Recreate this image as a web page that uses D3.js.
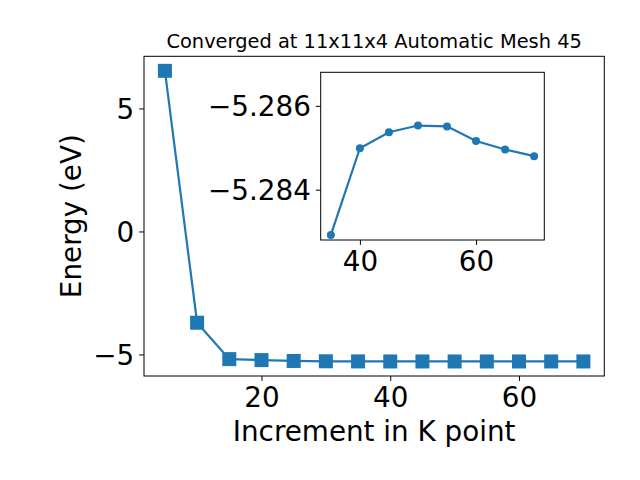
<!DOCTYPE html>
<html>
<head>
<meta charset="utf-8">
<style>
body { margin: 0; background: #fff; }
text { font-family: "DejaVu Sans", sans-serif; fill: #000; }
.domain { display: none; }
</style>
<script src="https://cdn.jsdelivr.net/npm/d3@7"></script>
</head>
<body>
<svg width="640" height="480"></svg>
<script>

// k-point increments and total energies (eV)
var kpoints = [5, 10, 15, 20, 25, 30, 35, 40, 45, 50, 55, 60, 65, 70];
var energy = [6.53, -3.71, -5.19, -5.23, -5.265, -5.278, -5.28292, -5.28499, -5.28537, -5.28553, -5.28551, -5.28516, -5.28496, -5.28480];

// zoomed part, from 35 on
var insetK = [35, 40, 45, 50, 55, 60, 65, 70];
var insetE = [-5.28292, -5.28499, -5.28537, -5.28553, -5.28551, -5.28516, -5.28496, -5.28480];

var mainXTicks = [20, 40, 60];
var mainYTicks = [-5, 0, 5];
var insetXTicks = [40, 60];
var insetYTicks = [-5.286, -5.284];

var blue = "#1f77b4";
var big = "27.8px";
var svg = d3.select("svg");

var main = { left: 144, right: 604.3, top: 56.3, bottom: 376 };
var ins = { left: 320.7, right: 544.3, top: 72.3, bottom: 240 };

function pad(ext, f) {
  var d = (ext[1] - ext[0]) * f;
  return [ext[0] - d, ext[1] + d];
}

var x = d3.scaleLinear().domain(pad(d3.extent(kpoints), 0.05)).range([main.left, main.right]);
var y = d3.scaleLinear().domain(pad(d3.extent(energy), 0.05)).range([main.bottom, main.top]);

// inset y runs downward (as in the picture)
var xi = d3.scaleLinear().domain(pad(d3.extent(insetK), 0.05)).range([ins.left, ins.right]);
var yi = d3.scaleLinear().domain([-5.2868, -5.2828]).range([ins.top, ins.bottom]);

function fmt(v) { return (v < 0 ? "\u2212" : "") + Math.abs(v); }

// main axes
svg.append("g")
    .attr("transform", "translate(0," + main.bottom + ")")
    .call(d3.axisBottom(x).tickValues(mainXTicks).tickSize(4.9).tickPadding(4.9).tickFormat(fmt))
    .call(function(g) { g.selectAll("text").style("font-size", big).attr("dy", "0.76em"); });

svg.append("g")
    .attr("transform", "translate(" + main.left + ",0)")
    .call(d3.axisLeft(y).tickValues(mainYTicks).tickSize(4.9).tickPadding(4.9).tickFormat(fmt))
    .call(function(g) { g.selectAll("text").style("font-size", big).attr("dy", "0.36em"); });

svg.append("rect")
    .attr("x", main.left).attr("y", main.top)
    .attr("width", main.right - main.left).attr("height", main.bottom - main.top)
    .attr("fill", "none").attr("stroke", "#000").attr("stroke-width", 1);

var line = d3.line()
    .x(function(d, i) { return x(kpoints[i]); })
    .y(function(d) { return y(d); });

svg.append("path")
    .datum(energy)
    .attr("d", line)
    .attr("fill", "none").attr("stroke", blue).attr("stroke-width", 2.2);

svg.selectAll(".sq")
  .data(energy)
  .enter().append("rect")
    .attr("class", "sq")
    .attr("x", function(d, i) { return x(kpoints[i]) - 7; })
    .attr("y", function(d) { return y(d) - 7; })
    .attr("width", 14).attr("height", 14)
    .attr("fill", blue);

svg.append("text")
    .attr("x", (main.left + main.right) / 2).attr("y", 48)
    .attr("text-anchor", "middle")
    .style("font-size", "19.4px")
    .text("Converged at 11x11x4 Automatic Mesh 45");

svg.append("text")
    .attr("x", (main.left + main.right) / 2).attr("y", 441)
    .attr("text-anchor", "middle")
    .style("font-size", big)
    .text("Increment in K point");

svg.append("text")
    .attr("transform", "translate(81," + (main.top + main.bottom) / 2 + ") rotate(-90)")
    .attr("text-anchor", "middle")
    .style("font-size", big)
    .text("Energy (eV)");

// inset
svg.append("rect")
    .attr("x", ins.left).attr("y", ins.top)
    .attr("width", ins.right - ins.left).attr("height", ins.bottom - ins.top)
    .attr("fill", "#fff").attr("stroke", "#000").attr("stroke-width", 1);

svg.append("g")
    .attr("transform", "translate(0," + ins.bottom + ")")
    .call(d3.axisBottom(xi).tickValues(insetXTicks).tickSize(4.9).tickPadding(4.9).tickFormat(fmt))
    .call(function(g) { g.selectAll("text").style("font-size", big).attr("dy", "0.76em"); });

svg.append("g")
    .attr("transform", "translate(" + ins.left + ",0)")
    .call(d3.axisLeft(yi).tickValues(insetYTicks).tickSize(4.9).tickPadding(4.9).tickFormat(function(v) { return fmt(v.toFixed(3)); }))
    .call(function(g) { g.selectAll("text").style("font-size", big).attr("dy", "0.36em"); });

var lineI = d3.line()
    .x(function(d, i) { return xi(insetK[i]); })
    .y(function(d) { return yi(d); });

svg.append("path")
    .datum(insetE)
    .attr("d", lineI)
    .attr("fill", "none").attr("stroke", blue).attr("stroke-width", 2.2);

svg.selectAll(".dot")
  .data(insetE)
  .enter().append("circle")
    .attr("class", "dot")
    .attr("cx", function(d, i) { return xi(insetK[i]); })
    .attr("cy", function(d) { return yi(d); })
    .attr("r", 4)
    .attr("fill", blue);

</script>
</body>
</html>
